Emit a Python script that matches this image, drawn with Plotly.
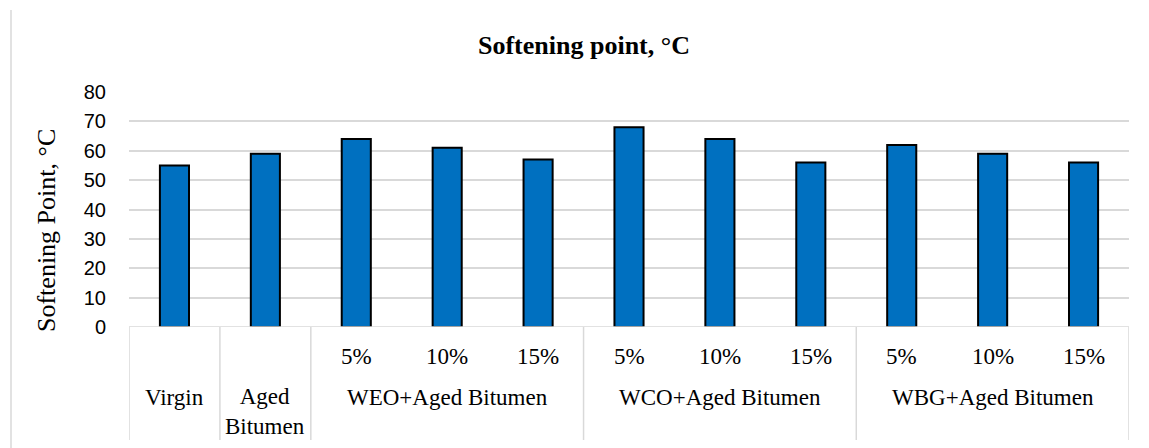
import plotly.graph_objects as go

categories = ["Virgin", "Aged Bitumen", "WEO 5%", "WEO 10%", "WEO 15%",
              "WCO 5%", "WCO 10%", "WCO 15%", "WBG 5%", "WBG 10%", "WBG 15%"]
sub_labels = ["", "", "5%", "10%", "15%", "5%", "10%", "15%", "5%", "10%", "15%"]
values = [55, 59, 64, 61, 57, 68, 64, 56, 62, 59, 56]
groups = [("Virgin", 0, 0), ("Aged<br>Bitumen", 1, 1), ("WEO+Aged Bitumen", 2, 4),
          ("WCO+Aged Bitumen", 5, 7), ("WBG+Aged Bitumen", 8, 10)]
y_ticks = [0, 10, 20, 30, 40, 50, 60, 70, 80]

W, H = 1149, 448
OFF = 8  # page body margin
# desired on-screen plot area: x 129..1129, y 92..327
L = 129 - OFF
T = 92 - OFF
R = W - (1129 - OFF)
B = H - (327 - OFF)
serif = "Liberation Serif, Times New Roman, serif"
sans = "Liberation Sans, Arial, sans-serif"

plot_w = W - L - R
plot_h = H - T - B


def px_x(sx):
    return (sx - OFF - L) / plot_w


def px_y(sy):
    return (H - B - (sy - OFF)) / plot_h


fig = go.Figure(go.Bar(
    x=categories, y=values, width=0.32,
    marker=dict(color="#0070C0", line=dict(color="#000000", width=2)),
))

shapes = []
annotations = []
grid = "#d9d9d9"
shapes.append(dict(type="line", xref="x", yref="y", x0=-0.5, x1=len(categories) - 0.5,
                   y0=0, y1=0, line=dict(color=grid, width=1.5)))
bounds = [-0.5, 0.5, 1.5, 4.5, 7.5, 10.5]
for b in bounds:
    shapes.append(dict(type="line", xref="x", yref="paper", x0=b, x1=b,
                       y0=0, y1=px_y(440), line=dict(color=grid, width=1.5)))
shapes.append(dict(type="line", xref="paper", yref="paper",
                   x0=px_x(11), x1=px_x(11),
                   y0=px_y(460), y1=px_y(10), line=dict(color=grid, width=1.5)))

lab_font = dict(family=serif, size=23, color="#000")
for cat, lab in zip(categories, sub_labels):
    if lab:
        annotations.append(dict(x=cat, y=px_y(356), xref="x", yref="paper", text=lab,
                                showarrow=False, font=lab_font,
                                xanchor="center", yanchor="middle"))
for name, i0, i1 in groups:
    xc = (i0 + i1) / 2
    ypix = 411 if "<br>" in name else 397
    annotations.append(dict(x=xc, y=px_y(ypix), xref="x", yref="paper", text=name,
                            showarrow=False, font=lab_font,
                            xanchor="center", yanchor="middle"))

annotations.append(dict(x=px_x(584), y=px_y(46), xref="paper", yref="paper",
                        text="<b>Softening point, °C</b>", showarrow=False,
                        font=dict(family=serif, size=26, color="#000"),
                        xanchor="center", yanchor="middle"))
annotations.append(dict(x=px_x(46), y=px_y(231), xref="paper", yref="paper",
                        text="Softening Point, °C", showarrow=False, textangle=-90,
                        font=dict(family=serif, size=26, color="#000"),
                        xanchor="center", yanchor="middle"))

fig.update_layout(
    width=W, height=H,
    margin=dict(l=L, r=R, t=T, b=B),
    paper_bgcolor="white", plot_bgcolor="white",
    showlegend=False,
    shapes=shapes, annotations=annotations,
    xaxis=dict(type="category", showticklabels=False, showgrid=False, zeroline=False,
               showline=False, ticks="", range=[-0.5, len(categories) - 0.5]),
    yaxis=dict(range=[0, 80], tickvals=y_ticks, showgrid=True, gridcolor=grid,
               gridwidth=1.5, zeroline=False, showline=False, ticks="",
               tickfont=dict(family=sans, size=20, color="#000"), ticklabelstandoff=22),
)

fig.write_html("out.html")
